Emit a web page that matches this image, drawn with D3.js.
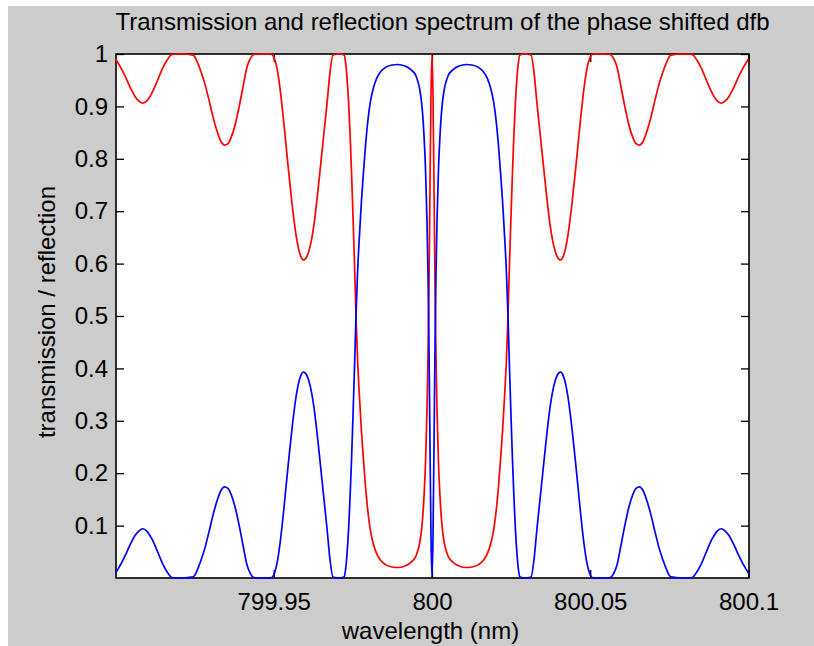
<!DOCTYPE html>
<html>
<head>
<meta charset="utf-8">
<script src="https://cdn.jsdelivr.net/npm/d3@7"></script>
<style>
  html, body { margin: 0; padding: 0; background: #ffffff; }
  svg { display: block; }
</style>
</head>
<body>
<svg id="chart" width="814" height="646"></svg>
<script>
// Wavelength samples (nm) across the stop band of the phase-shifted DFB grating
const wavelength = [
  799.90000, 799.90174, 799.90332, 799.90490, 799.90616, 799.90742, 799.90869, 799.90995, 799.91153, 799.91311,
  799.91469, 799.91627, 799.91785, 799.92101, 799.92449, 799.92575, 799.92701, 799.92828, 799.92954, 799.93080,
  799.93207, 799.93333, 799.93444, 799.93554, 799.93649, 799.93776, 799.93902, 799.94028, 799.94155, 799.94250,
  799.94376, 799.94629, 799.94913, 799.95008, 799.95103, 799.95197, 799.95324, 799.95450, 799.95577, 799.95703,
  799.95829, 799.95940, 799.96050, 799.96145, 799.96272, 799.96398, 799.96493, 799.96588, 799.96682, 799.96777,
  799.96872, 799.97062, 799.97220, 799.97267, 799.97314, 799.97362, 799.97409, 799.97457, 799.97504, 799.97551,
  799.97599, 799.97646, 799.97709, 799.97772, 799.97836, 799.97899, 799.97978, 799.98057, 799.98152, 799.98262,
  799.98389, 799.98547, 799.98736, 799.98926, 799.99147, 799.99336, 799.99494, 799.99605, 799.99684, 799.99747,
  799.99795, 799.99842, 799.99874, 799.99905, 799.99937, 799.99968,
  800.00000,
  800.00032, 800.00063, 800.00095, 800.00126, 800.00158, 800.00205, 800.00253, 800.00316, 800.00395, 800.00506,
  800.00664, 800.00853, 800.01074, 800.01264, 800.01453, 800.01611, 800.01738, 800.01848, 800.01943, 800.02022,
  800.02101, 800.02164, 800.02228, 800.02291, 800.02354, 800.02401, 800.02449, 800.02496, 800.02543, 800.02591,
  800.02638, 800.02686, 800.02733, 800.02780, 800.02938, 800.03128, 800.03223, 800.03318, 800.03412, 800.03507,
  800.03602, 800.03728, 800.03855, 800.03950, 800.04060, 800.04171, 800.04297, 800.04423, 800.04550, 800.04676,
  800.04803, 800.04897, 800.04992, 800.05087, 800.05371, 800.05624, 800.05750, 800.05845, 800.05972, 800.06098,
  800.06224, 800.06351, 800.06446, 800.06556, 800.06667, 800.06793, 800.06920, 800.07046, 800.07172, 800.07299,
  800.07425, 800.07551, 800.07899, 800.08215, 800.08373, 800.08531, 800.08689, 800.08847, 800.09005, 800.09131,
  800.09258, 800.09384, 800.09510, 800.09668, 800.09826, 800.10000
];

// Power transmission at each wavelength (red trace)
const transmission = [
  0.991, 0.973, 0.954, 0.933, 0.919, 0.910, 0.906, 0.911, 0.926, 0.947,
  0.970, 0.988, 0.999, 1.000, 0.998, 0.986, 0.966, 0.942, 0.912, 0.880,
  0.853, 0.833, 0.826, 0.829, 0.840, 0.864, 0.898, 0.937, 0.975, 0.990,
  0.999, 1.000, 1.000, 0.993, 0.972, 0.935, 0.865, 0.788, 0.715, 0.655,
  0.618, 0.607, 0.614, 0.632, 0.675, 0.740, 0.795, 0.850, 0.905, 0.965,
  0.998, 1.000, 0.998, 0.985, 0.955, 0.910, 0.850, 0.775, 0.690, 0.600,
  0.500, 0.420, 0.345, 0.280, 0.225, 0.175, 0.125, 0.090, 0.064, 0.045,
  0.033, 0.025, 0.021, 0.020, 0.023, 0.030, 0.042, 0.065, 0.100, 0.155,
  0.220, 0.320, 0.420, 0.560, 0.750, 0.920,
  1.000,
  0.920, 0.750, 0.560, 0.420, 0.320, 0.220, 0.155, 0.100, 0.065, 0.042,
  0.030, 0.023, 0.020, 0.021, 0.025, 0.033, 0.045, 0.064, 0.090, 0.125,
  0.175, 0.225, 0.280, 0.345, 0.420, 0.500, 0.600, 0.690, 0.775, 0.850,
  0.910, 0.955, 0.985, 0.998, 1.000, 0.998, 0.965, 0.905, 0.850, 0.795,
  0.740, 0.675, 0.632, 0.614, 0.607, 0.618, 0.655, 0.715, 0.788, 0.865,
  0.935, 0.972, 0.993, 1.000, 1.000, 0.999, 0.990, 0.975, 0.937, 0.898,
  0.864, 0.840, 0.829, 0.826, 0.833, 0.853, 0.880, 0.912, 0.942, 0.966,
  0.986, 0.998, 1.000, 0.999, 0.988, 0.970, 0.947, 0.926, 0.911, 0.906,
  0.910, 0.919, 0.933, 0.954, 0.973, 0.991
];

// Power reflection at each wavelength (blue trace)
const reflection = [
  0.009, 0.027, 0.046, 0.067, 0.081, 0.090, 0.094, 0.089, 0.074, 0.053,
  0.030, 0.012, 0.001, 0.000, 0.002, 0.014, 0.034, 0.058, 0.088, 0.120,
  0.147, 0.167, 0.174, 0.171, 0.160, 0.136, 0.102, 0.063, 0.025, 0.010,
  0.001, 0.000, 0.000, 0.007, 0.028, 0.065, 0.135, 0.212, 0.285, 0.345,
  0.382, 0.393, 0.386, 0.368, 0.325, 0.260, 0.205, 0.150, 0.095, 0.035,
  0.002, 0.000, 0.002, 0.015, 0.045, 0.090, 0.150, 0.225, 0.310, 0.400,
  0.500, 0.580, 0.655, 0.720, 0.775, 0.825, 0.875, 0.910, 0.936, 0.955,
  0.967, 0.975, 0.979, 0.980, 0.977, 0.970, 0.958, 0.935, 0.900, 0.845,
  0.780, 0.680, 0.580, 0.440, 0.250, 0.080,
  0.000,
  0.080, 0.250, 0.440, 0.580, 0.680, 0.780, 0.845, 0.900, 0.935, 0.958,
  0.970, 0.977, 0.980, 0.979, 0.975, 0.967, 0.955, 0.936, 0.910, 0.875,
  0.825, 0.775, 0.720, 0.655, 0.580, 0.500, 0.400, 0.310, 0.225, 0.150,
  0.090, 0.045, 0.015, 0.002, 0.000, 0.002, 0.035, 0.095, 0.150, 0.205,
  0.260, 0.325, 0.368, 0.386, 0.393, 0.382, 0.345, 0.285, 0.212, 0.135,
  0.065, 0.028, 0.007, 0.000, 0.000, 0.001, 0.010, 0.025, 0.063, 0.102,
  0.136, 0.160, 0.171, 0.174, 0.167, 0.147, 0.120, 0.088, 0.058, 0.034,
  0.014, 0.002, 0.000, 0.001, 0.012, 0.030, 0.053, 0.074, 0.089, 0.094,
  0.090, 0.081, 0.067, 0.046, 0.027, 0.009
];

const xTickValues = [799.95, 800, 800.05, 800.1];
const xTickLabels = ["799.95", "800", "800.05", "800.1"];
const yTickValues = [0.1, 0.2, 0.3, 0.4, 0.5, 0.6, 0.7, 0.8, 0.9, 1];
const yTickLabels = ["0.1", "0.2", "0.3", "0.4", "0.5", "0.6", "0.7", "0.8", "0.9", "1"];

const titleText = "Transmission and reflection spectrum of the phase shifted dfb";
const xLabelText = "wavelength (nm)";
const yLabelText = "transmission / reflection";

// Layout
const W = 814, H = 646;
const box = { left: 116, right: 749, top: 54, bottom: 578 };
const FONT = "'Liberation Sans', Arial, Helvetica, sans-serif";
const FS = 24;
const TICK = 8;

const svg = d3.select("#chart");

// Figure background with a thin white margin at the left and top
svg.append("rect").attr("x", 0).attr("y", 0).attr("width", W).attr("height", H).attr("fill", "#ffffff");
svg.append("rect").attr("x", 8).attr("y", 6).attr("width", W - 8).attr("height", H - 6).attr("fill", "#cccccc");

// Axes area
svg.append("rect")
  .attr("x", box.left).attr("y", box.top)
  .attr("width", box.right - box.left).attr("height", box.bottom - box.top)
  .attr("fill", "#ffffff");

const x = d3.scaleLinear().domain([799.9, 800.1]).range([box.left - 0.5, box.right - 0.5]);
const y = d3.scaleLinear().domain([0, 1]).range([box.bottom, box.top]);

function styleAxis(g) {
  g.select(".domain").remove();
  g.selectAll(".tick line").attr("stroke", "#000").attr("stroke-width", 1.3);
  g.selectAll(".tick text").attr("fill", "#000");
  g.attr("font-family", FONT).attr("font-size", FS);
}

// Bottom axis with labels
svg.append("g")
  .attr("transform", `translate(0,${box.bottom})`)
  .call(d3.axisBottom(x).tickValues(xTickValues)
    .tickFormat((d, i) => xTickLabels[i])
    .tickSizeInner(-TICK).tickSizeOuter(0).tickPadding(15))
  .call(styleAxis);

// Top axis, ticks only
svg.append("g")
  .attr("transform", `translate(0,${box.top})`)
  .call(d3.axisTop(x).tickValues(xTickValues).tickFormat(() => "")
    .tickSizeInner(-TICK).tickSizeOuter(0))
  .call(styleAxis);

// Left axis with labels
svg.append("g")
  .attr("transform", `translate(${box.left},0)`)
  .call(d3.axisLeft(y).tickValues(yTickValues)
    .tickFormat((d, i) => yTickLabels[i])
    .tickSizeInner(-TICK).tickSizeOuter(0).tickPadding(8))
  .call(styleAxis);

// Right axis, ticks only
svg.append("g")
  .attr("transform", `translate(${box.right},0)`)
  .call(d3.axisRight(y).tickValues(yTickValues).tickFormat(() => "")
    .tickSizeInner(-TICK).tickSizeOuter(0))
  .call(styleAxis);

// Axes box
svg.append("rect")
  .attr("x", box.left).attr("y", box.top)
  .attr("width", box.right - box.left).attr("height", box.bottom - box.top)
  .attr("fill", "none").attr("stroke", "#000").attr("stroke-width", 1.6);

// Traces
const points = wavelength.map((w, i) => ({ w, t: transmission[i], r: reflection[i] }));

const lineT = d3.line().x(d => x(d.w)).y(d => y(d.t)).curve(d3.curveMonotoneX);
const lineR = d3.line().x(d => x(d.w)).y(d => y(d.r)).curve(d3.curveMonotoneX);

svg.append("path").datum(points)
  .attr("d", lineT).attr("fill", "none")
  .attr("stroke", "#ff0000").attr("stroke-width", 1.7).attr("stroke-linejoin", "round");

svg.append("path").datum(points)
  .attr("d", lineR).attr("fill", "none")
  .attr("stroke", "#0000ff").attr("stroke-width", 1.7).attr("stroke-linejoin", "round");

// Title and axis labels
const cx = (box.left + box.right) / 2;

svg.append("text")
  .attr("x", cx + 10).attr("y", 30)
  .attr("text-anchor", "middle")
  .attr("font-family", FONT).attr("font-size", FS).attr("fill", "#000")
  .text(titleText);

svg.append("text")
  .attr("x", cx - 2).attr("y", 639)
  .attr("text-anchor", "middle")
  .attr("font-family", FONT).attr("font-size", FS).attr("fill", "#000")
  .text(xLabelText);

svg.append("text")
  .attr("transform", `translate(55,${(box.top + box.bottom) / 2 - 4}) rotate(-90)`)
  .attr("text-anchor", "middle")
  .attr("font-family", FONT).attr("font-size", FS).attr("fill", "#000")
  .text(yLabelText);
</script>
</body>
</html>
